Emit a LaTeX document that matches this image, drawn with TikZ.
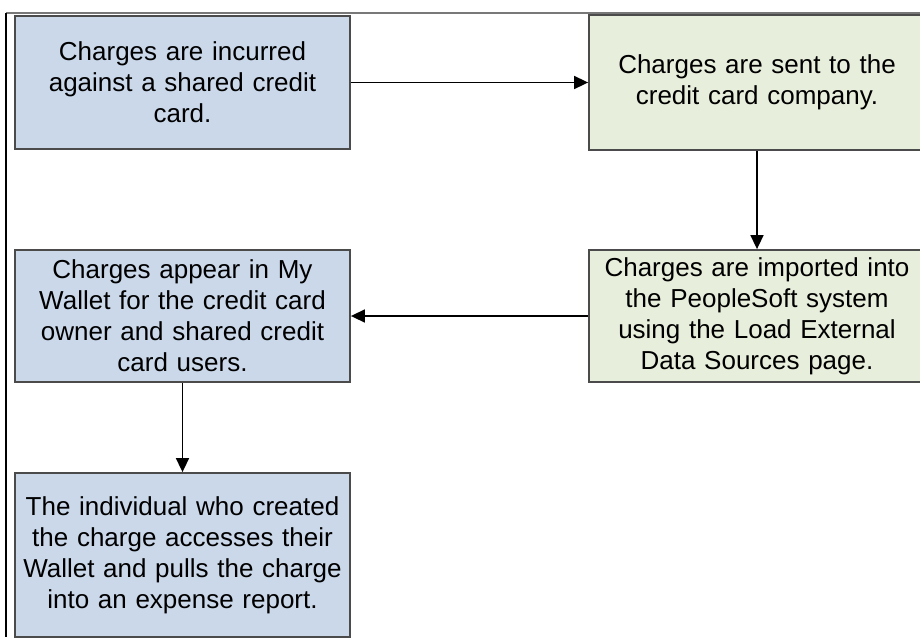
\documentclass[tikz,border=0pt]{standalone}
\usepackage{fontspec}
\setmainfont{Liberation Sans}
\usetikzlibrary{arrows.meta}
\definecolor{boxblue}{RGB}{202,216,234}
\definecolor{boxgreen}{RGB}{232,238,220}
\definecolor{boxedge}{RGB}{75,75,75}
\definecolor{framegray}{RGB}{120,120,120}
\tikzset{
  stepbox/.style={draw=boxedge, line width=2.8pt, inner sep=0pt,
    minimum width=335pt, text width=325pt, align=center,
    font=\fontsize{26}{31}\selectfont},
  bluebox/.style={stepbox, fill=boxblue},
  greenbox/.style={stepbox, fill=boxgreen},
  flow/.style={draw=black, line width=1.6pt, shorten >=-0.5pt, -{Triangle[length=14pt,width=13pt]}}
}
\begin{document}
\begin{tikzpicture}[x=1pt,y=1pt]
\clip (0,0) rectangle (920,-637);
\fill[white] (0,0) rectangle (920,-637);
\draw[framegray, line width=1.2pt] (6,-13) -- (920,-13);
\draw[black, line width=1.4pt] (6,-13) -- (6,-637);
\node[bluebox, minimum height=133pt] (b1) at (182.5,-82.5)
  {Charges are incurred\\against a shared credit\\card.};
\node[greenbox, minimum width=336pt, minimum height=135pt] (b2) at (757,-82.5)
  {Charges are sent to the\\credit card company.};
\node[greenbox, minimum width=336pt, minimum height=132pt] (b3) at (757,-316)
  {Charges are imported into\\the PeopleSoft system\\using the Load External\\Data Sources page.};
\node[bluebox, minimum height=132pt] (b4) at (182.5,-316)
  {Charges appear in My\\Wallet for the credit card\\owner and shared credit\\card users.};
\node[bluebox, minimum height=164pt] (b5) at (182.5,-555)
  {The individual who created\\the charge accesses their\\Wallet and pulls the charge\\into an expense report.};
\draw[flow] (b1) -- (b2);
\draw[flow] (b2) -- (b3);
\draw[flow] (b3) -- (b4);
\draw[flow] (b4) -- (b5);
\end{tikzpicture}
\end{document}
